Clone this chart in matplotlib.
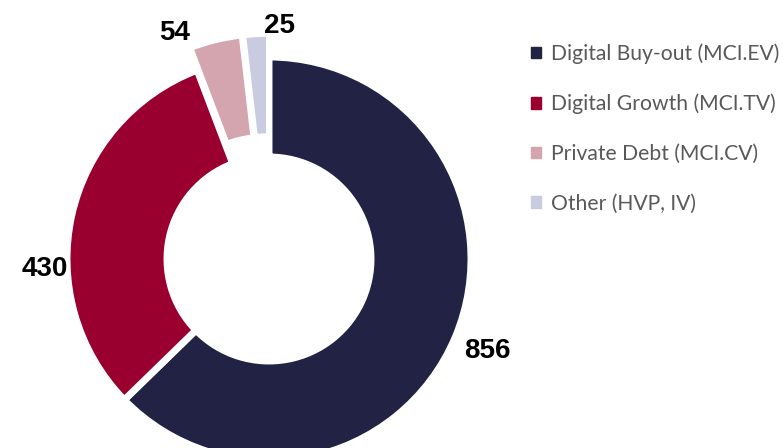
import numpy as np
import matplotlib.pyplot as plt

# data
labels = ['Digital Buy-out (MCI.EV)', 'Digital Growth (MCI.TV)',
          'Private Debt (MCI.CV)', 'Other (HVP, IV)']
values = [856, 430, 54, 25]
colors = ['#222244', '#990030', '#D4A4AF', '#C9CBE0']
explode = [0, 0, 22, 22]
edge_w = [5, 5, 2.5, 2.5]

# label placement (angle shift in degrees, distance in px from centre)
lab_shift = [0, 15, 9, -6]
lab_dist = [237, 224, 245, 233]

fig = plt.figure(figsize=(7.83, 4.48), dpi=100)
ax = fig.add_axes([0, 0, 1, 1])

cx, cy, r = 269, 189, 202
wedges, _ = ax.pie(values, colors=colors, startangle=90, counterclock=False,
                   radius=r, center=(cx, cy), explode=explode,
                   wedgeprops=dict(width=100, edgecolor='white'))
for w, lw in zip(wedges, edge_w):
    w.set_linewidth(lw)

for w, v, s, d in zip(wedges, values, lab_shift, lab_dist):
    mid = np.deg2rad((w.theta1 + w.theta2) / 2 + s)
    ax.text(cx + d * np.cos(mid), cy + d * np.sin(mid), str(v),
            ha='center', va='center', fontsize=20, fontweight='bold',
            family='Liberation Sans', color='black')

ax.set_xlim(0, 783)
ax.set_ylim(0, 448)
ax.set_aspect('equal')
ax.axis('off')

handles = [plt.Rectangle((0, 0), 1, 1, color=c) for c in colors]
leg = ax.legend(handles, labels, loc='upper left', bbox_to_anchor=(0.654, 0.945),
                frameon=False, prop={'family': 'Lato', 'size': 15.2},
                labelcolor='#595959', handlelength=0.45, handleheight=0.45,
                handletextpad=0.5, labelspacing=1.4)

fig.savefig('out.png', dpi=100)
